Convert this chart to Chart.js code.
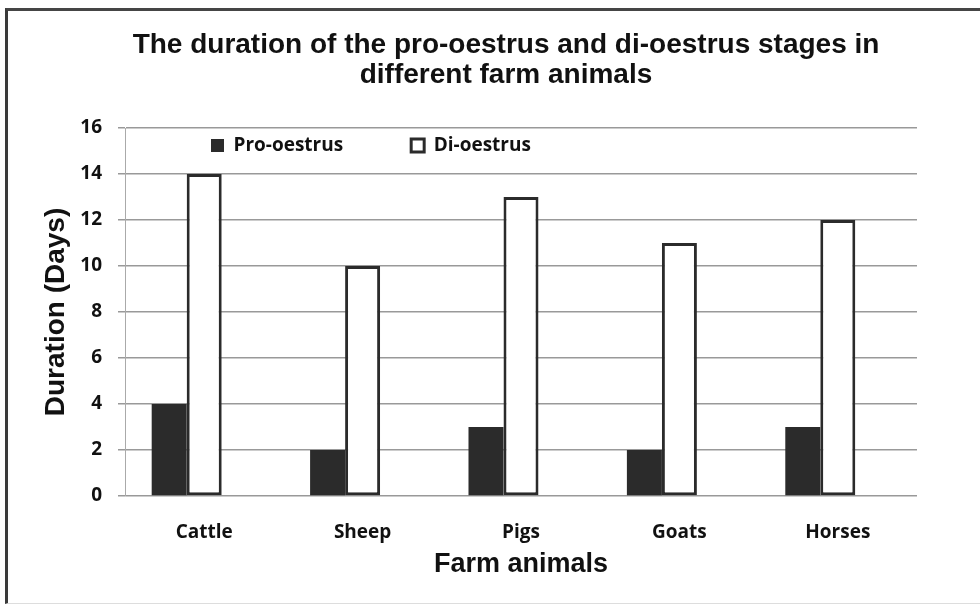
<!DOCTYPE html>
<html>
<head>
<meta charset="utf-8">
<title>Pro-oestrus and di-oestrus duration</title>
<script src="https://cdn.jsdelivr.net/npm/chart.js@4.4.1/dist/chart.umd.min.js"></script>
<style>
    html, body { margin: 0; padding: 0; background: #fff; }
    #wrap { position: relative; width: 980px; height: 606px; overflow: hidden; }
    #frame {
        position: absolute; left: 5px; top: 8px; width: 980px; height: 596px;
        box-sizing: border-box;
        border-left: 3px solid #3a3a3a; border-top: 3px solid #454545; border-bottom: 1px solid #ddd;
    }
    #myChart { position: absolute; left: 0; top: 0; }
</style>
</head>
<body>
<div id="wrap">
    <div id="frame"></div>
    <canvas id="myChart" width="980" height="606"></canvas>
</div>
<script>
    const animals = ['Cattle', 'Sheep', 'Pigs', 'Goats', 'Horses'];
    const proOestrus = [4, 2, 3, 2, 3];
    const diOestrus = [14, 10, 13, 11, 12];
    // the pair of bars sits left of each label, as if a third (empty) bar followed
    const emptySlot = [null, null, null, null, null];
    const yMin = 0;
    const yMax = 16;
    const yStep = 2;

    const labelFont = { family: '"Open Sans", sans-serif', size: 19, weight: 'bold' };
    const titleFont = { family: '"Liberation Sans", Arial, sans-serif', weight: 'bold' };

    // legend sits inside the plot, title is a bit right of canvas centre
    const placeBoxes = {
        id: 'placeBoxes',
        afterLayout(chart) {
            const lg = chart.legend;
            const pad = lg.options.labels.padding;
            const itemH = lg._itemHeight || 24;
            lg.left = 211 - pad;
            lg.right = 917;
            lg.top = 148 - pad - itemH / 2;
            lg.bottom = lg.top + itemH + 2 * pad;
            lg.width = lg.right - lg.left;
            lg.height = lg.bottom - lg.top;

            const t = chart.titleBlock;
            const shift = 506 - (t.left + t.right) / 2;
            t.left += shift;
            t.right += shift;
        }
    };

    new Chart(document.getElementById('myChart'), {
        type: 'bar',
        data: {
            labels: animals,
            datasets: [{
                label: 'Pro-oestrus',
                data: proOestrus,
                backgroundColor: '#2b2b2b',
                borderWidth: 0
            }, {
                label: 'Di-oestrus',
                data: diOestrus,
                backgroundColor: '#ffffff',
                borderColor: '#2b2b2b',
                borderWidth: 3,
                borderSkipped: false
            }, {
                label: '',
                data: emptySlot,
                backgroundColor: 'rgba(0,0,0,0)',
                borderWidth: 0
            }]
        },
        options: {
            responsive: false,
            animation: false,
            events: [],
            categoryPercentage: 0.663,
            barPercentage: 1,
            layout: { padding: { left: 0, right: 63, top: 0, bottom: 0 } },
            plugins: {
                title: {
                    display: true,
                    text: ['The duration of the pro-oestrus and di-oestrus stages in', 'different farm animals'],
                    color: '#111',
                    font: { ...titleFont, size: 28, lineHeight: 29.5 / 28 },
                    padding: { top: 31, bottom: 37 }
                },
                legend: {
                    position: 'top',
                    align: 'start',
                    maxHeight: 1,
                    labels: {
                        color: '#111',
                        font: labelFont,
                        boxWidth: 13,
                        boxHeight: 13,
                        padding: 68,
                        filter: function (item) { return item.text !== ''; }
                    }
                },
                tooltip: { enabled: false }
            },
            scales: {
                x: {
                    grid: { display: false },
                    border: { display: false },
                    ticks: { color: '#111', font: labelFont, padding: 17 },
                    title: {
                        display: true,
                        text: 'Farm animals',
                        color: '#111',
                        font: { ...titleFont, size: 27 },
                        padding: { top: 0, bottom: 25 }
                    },
                    afterFit: function (scale) { scale.height = 110; }
                },
                y: {
                    min: yMin,
                    max: yMax,
                    ticks: { stepSize: yStep, color: '#111', font: labelFont, padding: 16 },
                    grid: { color: '#999', lineWidth: 1.5, tickLength: 7, tickColor: '#999' },
                    border: { display: true, color: '#aaa', width: 1 },
                    title: {
                        display: true,
                        text: 'Duration (Days)',
                        color: '#111',
                        font: { ...titleFont, size: 28 },
                        padding: { top: 39, bottom: 0 }
                    },
                    afterFit: function (scale) { scale.width = 125; }
                }
            }
        },
        plugins: [placeBoxes]
    });
</script>
</body>
</html>
